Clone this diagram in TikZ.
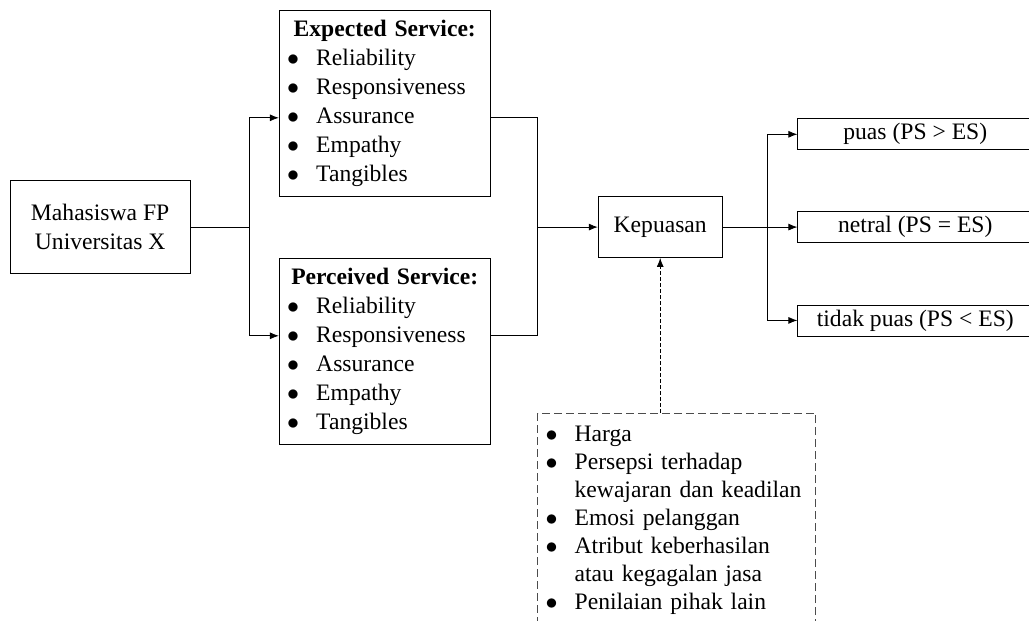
\documentclass[tikz,border=0pt]{standalone}
\usepackage{fontspec}
\setmainfont{Liberation Serif}
\usetikzlibrary{arrows.meta}

\newcommand{\bitem}{\par\noindent\hangindent=14.5pt\hangafter=1\makebox[14.5pt][l]{$\bullet$}}

\begin{document}
\begin{tikzpicture}[>={Latex[length=4.5pt,width=3.5pt]}, font=\fontsize{11.8}{14.5}\selectfont,
  box/.style={draw, align=center, inner sep=2pt},
  listbox/.style={draw, text width=97.5pt, inner xsep=4pt, minimum height=93pt, align=left},
  outbox/.style={draw, anchor=west, minimum width=117.5pt, minimum height=15.5pt, inner sep=0pt}]
\useasboundingbox (0,0) rectangle (18.08,10.91);

% respondents
\node[box, minimum width=90pt, minimum height=46.5pt] (mhs) at (1.76,6.92) {Mahasiswa FP\\Universitas X};
% expected and perceived service
\node[listbox] (expected) at (6.76,9.10) {{\centering\textbf{Expected Service:}\par}
  \bitem Reliability \bitem Responsiveness \bitem Assurance \bitem Empathy \bitem Tangibles};
\node[listbox] (perceived) at (6.76,4.74) {{\centering\textbf{Perceived Service:}\par}
  \bitem Reliability \bitem Responsiveness \bitem Assurance \bitem Empathy \bitem Tangibles};
% satisfaction
\node[box, minimum width=62pt, minimum height=30.5pt] (kepuasan) at (11.60,6.92) {Kepuasan};
% results
\node[outbox] (puas) at (14.01,8.55) {puas (PS > ES)};
\node[outbox] (netral) at (14.01,6.92) {netral (PS = ES)};
\node[outbox] (tidak) at (14.01,5.28) {tidak puas (PS < ES)};
% other factors (box runs past the bottom edge)
\node[draw=black!70, dash pattern=on 4pt off 2pt, anchor=north west, text width=131pt,
  inner xsep=4pt, inner ysep=0pt, align=left, font=\fontsize{11.8}{14}\selectfont] (factors) at (9.44,3.66)
  {\bitem Harga
   \bitem Persepsi terhadap\newline kewajaran dan keadilan
   \bitem Emosi pelanggan
   \bitem Atribut keberhasilan\newline atau kegagalan jasa
   \bitem Penilaian pihak lain\rule[-14pt]{0pt}{14pt}};

% connectors
\coordinate (split) at (4.39,6.92);
\coordinate (merge) at (9.44,6.92);
\coordinate (fork) at (13.48,6.92);
\draw (mhs) -- (split);
\draw [->] (split) |- ([yshift=-0.26cm]expected.west);
\draw [->] (split) |- ([yshift=0.27cm]perceived.west);
\draw ([yshift=-0.26cm]expected.east) -| (merge);
\draw ([yshift=0.27cm]perceived.east) -| (merge);
\draw [->] (merge) -- (kepuasan);
\draw (kepuasan) -- (fork);
\draw [->] (fork) |- (puas);
\draw [->] (fork) -- (netral);
\draw [->] (fork) |- (tidak);
\draw [->, dash pattern=on 2pt off 1pt] (factors.north -| kepuasan) -- (kepuasan);

\end{tikzpicture}
\end{document}
